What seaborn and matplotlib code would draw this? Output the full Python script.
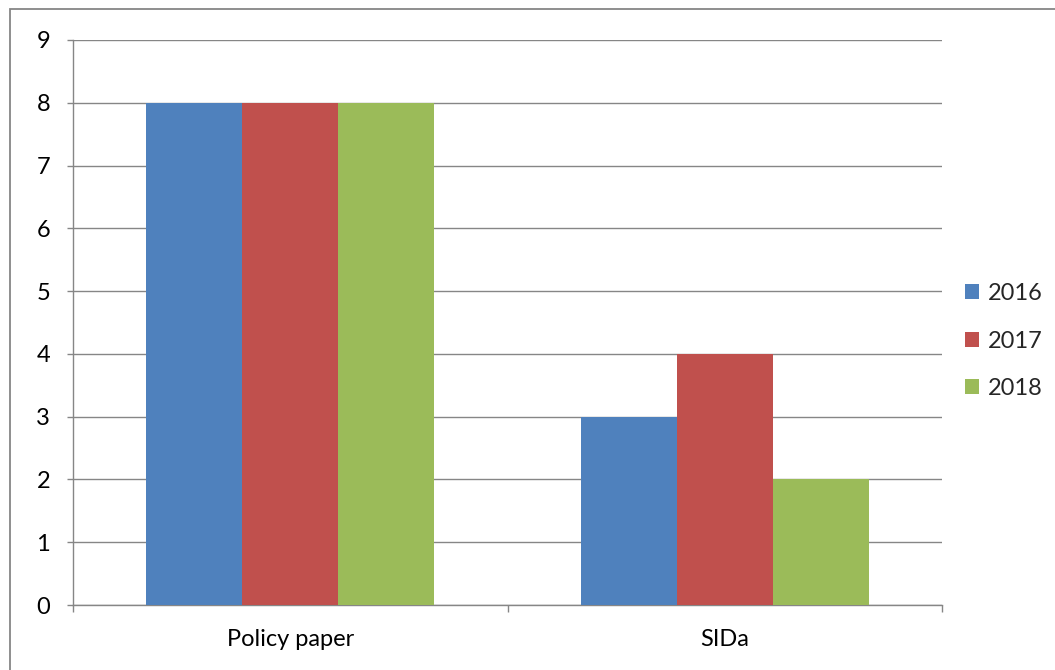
import matplotlib
matplotlib.use("Agg")
import matplotlib.pyplot as plt
import seaborn as sns
import pandas as pd
from matplotlib.patches import Rectangle

categories = ["Policy paper", "SIDa"]
years = ["2016", "2017", "2018"]
values_2016 = [8, 3]
values_2017 = [8, 4]
values_2018 = [8, 2]
colors = ["#4F81BD", "#C0504D", "#9BBB59"]

rows = []
for yr, vals in zip(years, [values_2016, values_2017, values_2018]):
    for c, v in zip(categories, vals):
        rows.append({"category": c, "year": yr, "value": v})
df = pd.DataFrame(rows)

sns.set_theme(style="white")
plt.rcParams["font.family"] = ["Lato", "DejaVu Sans"]

fs = 17
fig = plt.figure(figsize=(10.55, 6.70), dpi=100)
ax = fig.add_axes([73/1055, 65/670, (942-73)/1055, (605-40)/670])

sns.barplot(data=df, x="category", y="value", hue="year", palette=colors,
            width=0.663, linewidth=0, saturation=1, ax=ax, zorder=3)

ax.set_xlim(-0.5, 1.5)
ax.set_ylim(0, 9)
ax.set_yticks(range(0, 10))
ax.set_xlabel("")
ax.set_ylabel("")

grid_c = "#868686"
ax.yaxis.grid(True, color=grid_c, linewidth=1.0, zorder=0)
ax.set_axisbelow(True)
for s in ["top", "right"]:
    ax.spines[s].set_visible(False)
for s in ["left", "bottom"]:
    ax.spines[s].set_color(grid_c)
    ax.spines[s].set_linewidth(1.0)

ax.tick_params(axis="y", which="major", length=4.5, width=1, color=grid_c,
               pad=12, labelsize=fs, left=True, labelcolor="black")
ax.set_xticks([0, 1])
ax.set_xticklabels(categories)
ax.set_xticks([-0.5, 0.5, 1.5], minor=True)
ax.tick_params(axis="x", which="major", length=0, pad=17, labelsize=fs,
               labelcolor="black")
ax.tick_params(axis="x", which="minor", length=5, width=1, color=grid_c,
               bottom=True)

handles, labels = ax.get_legend_handles_labels()
ax.legend(handles, labels, loc="center left",
          bbox_to_anchor=(965/1055, 1 - 341/670),
          bbox_transform=fig.transFigure, frameon=False, fontsize=fs,
          handlelength=0.58, handleheight=0.58, handletextpad=0.4,
          labelspacing=1.12, borderaxespad=0, borderpad=0)

fig.patches.append(Rectangle((10/1055, -0.05), 1.2, 1 - 9/670 + 0.05,
                             transform=fig.transFigure, fill=False,
                             edgecolor="#868686", linewidth=1.3))

fig.savefig("out.png", dpi=100)
